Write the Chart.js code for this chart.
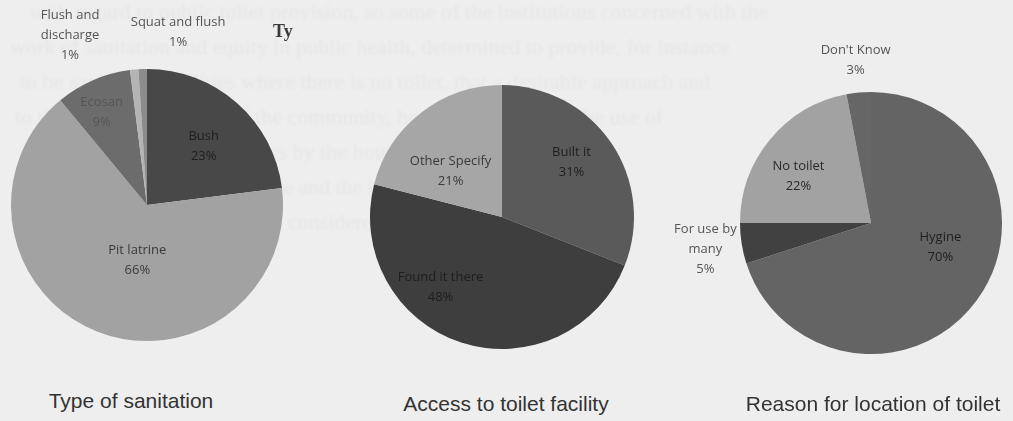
<!DOCTYPE html>
<html>
<head>
<meta charset="utf-8">
<script src="https://cdn.jsdelivr.net/npm/chart.js@4"></script>
<style>
  html, body { margin: 0; padding: 0; }
  body { width: 1013px; height: 421px; background: #eeeeee; position: relative; overflow: hidden; }
  .bgtext { position: absolute; left: 0; top: 0; width: 1013px; font-family: "Liberation Serif", serif; font-size: 22px; line-height: 35px; color: #e6e6e6; white-space: nowrap; filter: blur(1px); }
  canvas { position: absolute; }
  .title { position: absolute; font-family: "Liberation Sans", Arial, sans-serif; font-size: 21px; color: #333; white-space: nowrap; transform: translateX(-50%); }
  .ty { position: absolute; left: 273px; top: 21px; font-family: "Liberation Serif", serif; font-weight: bold; font-size: 18px; color: #3a3a3a; }
</style>
</head>
<body>
<div class="bgtext">
  <div style="padding-left: 30px; margin-top: -6px;">with regard to public toilet provision, so some of the institutions concerned with the</div>
  <div style="padding-left: 10px;">work of sanitation and equity in public health, determined to provide, for instance</div>
  <div style="padding-left: 20px;">to be sanitation facilities where there is no toilet, that a desirable approach and</div>
  <div style="padding-left: 15px;">to the potential capacity of the community, however, looking at the use of</div>
  <div style="padding-left: 25px;">the choice of such toilet types by the households in the area</div>
  <div style="padding-left: 15px;">needed to the number of people and the health of the community</div>
  <div style="padding-left: 25px;">the need for sanitation is also considered</div>
</div>

<canvas id="c1" width="300" height="380" style="left:0px; top:0px;"></canvas>
<canvas id="c2" width="320" height="380" style="left:340px; top:0px;"></canvas>
<canvas id="c3" width="363" height="380" style="left:650px; top:0px;"></canvas>

<div class="ty">Ty</div>
<div class="title" style="left:131px; top:389px;">Type of sanitation</div>
<div class="title" style="left:506px; top:392px;">Access to toilet facility</div>
<div class="title" style="left:873px; top:392px;">Reason for location of toilet</div>

<script>
// Type of sanitation
const sanitationTypes = ['Bush', 'Pit latrine', 'Ecosan', ['Flush and', 'discharge'], 'Squat and flush'];
const sanitationShares = [23, 66, 9, 1, 1];

// Access to toilet facility
const accessTypes = ['Built it', 'Found it there', 'Other Specify'];
const accessShares = [31, 48, 21];

// Reason for location of toilet
const reasonTypes = ['Hygine', ['For use by', 'many'], 'No toilet', "Don't Know"];
const reasonShares = [70, 5, 22, 3];

// draws "name / nn%" labels at a point relative to each slice
const sliceLabels = {
    id: 'sliceLabels',
    afterDatasetsDraw(chart, args, opts) {
        const ctx = chart.ctx;
        const meta = chart.getDatasetMeta(0);
        const ds = chart.data.datasets[0];
        ctx.save();
        ctx.font = '13px "Open Sans", sans-serif';
        ctx.textAlign = 'center';
        ctx.textBaseline = 'middle';
        meta.data.forEach((arc, i) => {
            const p = opts.place[i];
            const ang = (arc.startAngle + arc.endAngle) / 2 + p[1] * Math.PI / 180;
            const r = arc.outerRadius * p[0];
            const x = arc.x + Math.cos(ang) * r;
            const y = arc.y + Math.sin(ang) * r;
            const name = chart.data.labels[i];
            const lines = (Array.isArray(name) ? name : [name]).concat([ds.data[i] + '%']);
            const lh = 20;
            ctx.fillStyle = opts.colors[i];
            lines.forEach((t, k) => {
                ctx.fillText(t, x, y + (k - (lines.length - 1) / 2) * lh);
            });
        });
        ctx.restore();
    }
};

const makePie = (id, labels, values, colors, padding, place, textColors) => {
    const ctx = document.getElementById(id).getContext('2d');
    return new Chart(ctx, {
        type: 'pie',
        data: {
            labels: labels,
            datasets: [{
                data: values,
                backgroundColor: colors,
                borderWidth: 0
            }]
        },
        options: {
            responsive: false,
            animation: false,
            layout: { padding: padding },
            plugins: {
                legend: { display: false },
                tooltip: { enabled: false },
                sliceLabels: { place: place, colors: textColors }
            }
        },
        plugins: [sliceLabels]
    });
};

makePie('c1', sanitationTypes, sanitationShares,
    ['#484848', '#a2a2a2', '#6c6c6c', '#b4b4b4', '#8c8c8c'],
    { left: 11, right: 17, top: 69, bottom: 39 },
    [[0.6, 2.6], [0.41, -11.6], [0.76, -2.6], [1.37, -19], [1.29, 12]],
    ['#1e1e1e', '#3a3a3a', '#555555', '#555555', '#555555']);

makePie('c2', accessTypes, accessShares,
    ['#5a5a5a', '#3e3e3e', '#a6a6a6'],
    { left: 30, right: 26, top: 85, bottom: 31 },
    [[0.67, -4], [0.71, 23], [0.52, -10.7]],
    ['#1e1e1e', '#1e1e1e', '#3a3a3a']);

makePie('c3', reasonTypes, reasonShares,
    ['#646464', '#414141', '#a2a2a2', '#666666'],
    { left: 90, right: 11, top: 92, bottom: 26 },
    [[0.56, -17], [1.28, 0], [0.66, -6.6], [1.25, 0]],
    ['#1e1e1e', '#555555', '#2a2a2a', '#555555']);
</script>
</body>
</html>
